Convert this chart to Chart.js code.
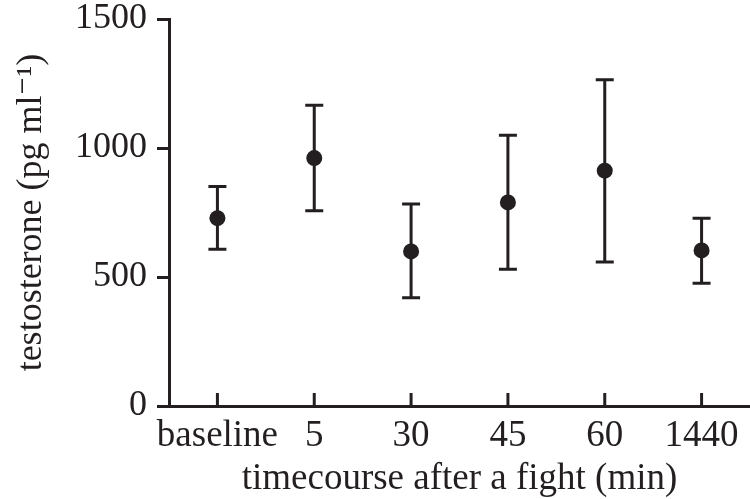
<!DOCTYPE html>
<html>
<head>
<meta charset="utf-8">
<script src="https://cdn.jsdelivr.net/npm/chart.js@4/dist/chart.umd.min.js"></script>
<style>
 body{margin:0;background:#fff;}
 canvas{display:block;}
</style>
</head>
<body>
<canvas id="c" width="750" height="499"></canvas>
<script>
const times=["baseline","5","30","45","60","1440"];
const means=[728,961,599,789,912,603];
const upper=[851,1166,783,1049,1265,728];
const lower=[608,757,420,530,558,476];
const yTicks=[0,500,1000,1500];

const ink="#231f20";
const serif="'Liberation Serif', 'DejaVu Serif', serif";

// error bars, drawn under the dots
const errorBars={
 id:"errorBars",
 beforeDatasetsDraw(chart){
  let ctx=chart.ctx,x=chart.scales.x,y=chart.scales.y;
  ctx.save();
  ctx.strokeStyle=ink;
  ctx.lineWidth=3;
  for(let i=0;i<means.length;i++){
   let px=x.getPixelForValue(i);
   let top=y.getPixelForValue(upper[i]);
   let bot=y.getPixelForValue(lower[i]);
   ctx.beginPath();
   ctx.moveTo(px,top);ctx.lineTo(px,bot);
   ctx.moveTo(px-9,top);ctx.lineTo(px+9,top);
   ctx.moveTo(px-9,bot);ctx.lineTo(px+9,bot);
   ctx.stroke();
  }
  ctx.restore();
 }
};

// x ticks point inward, up from the axis
const innerTicks={
 id:"innerTicks",
 afterDraw(chart){
  let ctx=chart.ctx,x=chart.scales.x,b=chart.chartArea.bottom;
  ctx.save();
  ctx.strokeStyle=ink;
  ctx.lineWidth=3;
  for(let i=0;i<times.length;i++){
   let px=x.getPixelForTick(i);
   ctx.beginPath();
   ctx.moveTo(px,b);ctx.lineTo(px,b-13);
   ctx.stroke();
  }
  ctx.restore();
 }
};

new Chart(document.getElementById("c"),{
 type:"line",
 data:{
  labels:times,
  datasets:[{
   data:means,
   showLine:false,
   pointRadius:8,
   pointHoverRadius:8,
   pointBackgroundColor:ink,
   pointBorderColor:ink,
   pointBorderWidth:0
  }]
 },
 options:{
  responsive:false,
  animation:false,
  layout:{autoPadding:false,padding:{top:19,right:0,bottom:1,left:14}},
  plugins:{legend:{display:false},tooltip:{enabled:false}},
  scales:{
   x:{
    offset:true,
    afterFit(s){s.paddingRight=0;},
    grid:{display:false,drawTicks:false},
    border:{color:ink,width:3},
    ticks:{color:ink,font:{family:serif,size:37,lineHeight:1},padding:12,maxRotation:0,autoSkip:false},
    title:{display:true,text:"timecourse after a fight (min)",color:ink,font:{family:serif,size:37,lineHeight:1},padding:{top:-6,bottom:0}}
   },
   y:{
    min:0,max:1500,
    afterBuildTicks(axis){axis.ticks=yTicks.map(v=>({value:v}));},
    afterFit(s){s.paddingTop=0;s.paddingBottom=0;},
    grid:{drawOnChartArea:false,drawTicks:true,tickLength:12,tickWidth:3,tickColor:ink},
    border:{color:ink,width:3},
    ticks:{color:ink,font:{family:serif,size:36,lineHeight:1},padding:10,callback:v=>String(v)},
    title:{display:true,text:"testosterone (pg ml\u207B\u00B9)",color:ink,font:{family:serif,size:36,lineHeight:1},padding:{top:0,bottom:15}}
   }
  }
 },
 plugins:[errorBars,innerTicks]
});
</script>
</body>
</html>
